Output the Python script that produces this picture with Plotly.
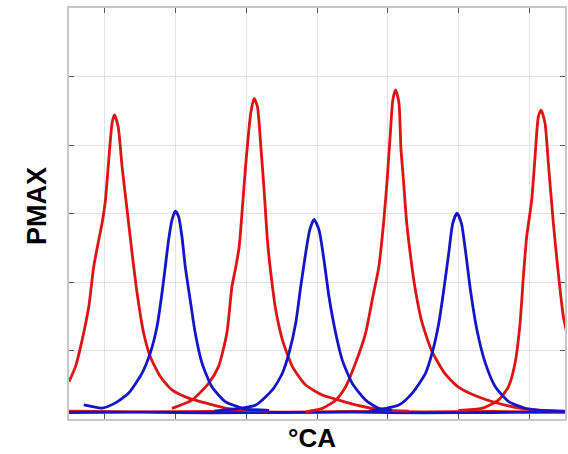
import plotly.graph_objects as go

# Crank angle (deg CA) and cylinder pressure (bar)
red1_x = [-60, -49, -37.7, -26.5, -18.1, -9.6, -3.9, 1.7, 7.3, 13.0, 16.9, 23.2, 29.9, 38.4, 46.8, 55.3, 66.4, 77.7, 94.6, 114.4, 142.5, 170.7, 204.5, 233.2, 278.9]
red1_y = [10.9, 15.3, 23.1, 32.8, 44.5, 52.3, 57.2, 63.9, 75.6, 86.4, 88.8, 85.4, 73.7, 61.0, 48.5, 36.8, 25.1, 18.2, 12.4, 8.5, 6.1, 4.7, 3.2, 2.6, 2.3]

blue1_x = [-35, -3.9, 18.6, 41.1, 63.7, 77.7, 89.1, 97.5, 103.1, 108.7, 114.4, 120.0, 125.6, 131.3, 136.9, 145.3, 153.8, 165.1, 182.0, 204.5, 227.0, 238.3, 278.9]
blue1_y = [4.1, 3.2, 4.7, 7.6, 13.4, 19.3, 27.0, 36.8, 44.5, 52.3, 58.1, 60.7, 59.1, 53.2, 44.5, 34.7, 25.1, 16.4, 9.4, 5.1, 3.5, 2.9, 2.5]

red2_x = [114.4, 148.2, 176.3, 193.2, 207.4, 215.9, 222.2, 228.2, 233.8, 239.5, 247.9, 253.5, 259.1, 264.9, 270.4, 276.0, 281.8, 290.2, 301.4, 318.3, 340.9, 369.0, 397.2, 425.4, 453.4, 476.1, 515.5]
red2_y = [3.1, 5.5, 10.4, 15.3, 25.1, 38.6, 44.1, 50.3, 62.0, 74.7, 89.4, 93.6, 91.2, 79.5, 66.9, 52.3, 42.6, 31.8, 23.1, 15.3, 9.9, 7.0, 5.5, 4.1, 3.1, 2.6, 2.3]

blue2_x = [185.9, 228.2, 256.4, 284.4, 301.4, 312.7, 324.0, 332.4, 340.9, 347.7, 355.0, 363.4, 371.8, 380.3, 391.6, 402.8, 419.7, 442.3, 464.8, 486.7]
blue2_y = [2.3, 3.1, 4.1, 8.5, 13.4, 19.3, 28.0, 38.6, 48.5, 55.2, 58.3, 55.2, 46.4, 35.7, 25.1, 17.2, 10.4, 5.5, 3.1, 2.6]

red3_x = [340.9, 369.0, 391.6, 408.5, 425.4, 442.3, 453.4, 464.8, 473.2, 478.8, 484.6, 488.4, 493.0, 498.6, 502.2, 506.0, 511.5, 517.2, 525.7, 536.8, 553.7, 576.4, 598.9, 632.7, 666.6, 705.9, 734.2, 768.0]
red3_y = [2.1, 3.1, 5.5, 9.4, 16.4, 25.1, 34.7, 44.5, 58.1, 69.8, 84.4, 93.1, 96.1, 92.6, 78.8, 70.7, 58.1, 49.3, 38.6, 28.9, 20.1, 13.3, 9.4, 6.5, 4.6, 3.1, 2.6, 2.3]

blue3_x = [447.9, 498.6, 521.0, 543.7, 554.9, 566.2, 574.7, 583.1, 589.9, 597.1, 604.6, 611.3, 619.8, 630.9, 645.1, 662.0, 684.5, 712.7, 734.2, 782.0]
blue3_y = [2.3, 4.1, 7.5, 13.3, 19.2, 27.9, 37.7, 48.4, 57.1, 60.1, 57.1, 49.3, 37.7, 26.0, 16.3, 9.4, 5.1, 3.1, 2.6, 2.3]

red4_x = [599.6, 639.0, 667.2, 684.1, 695.4, 703.9, 709.5, 715.1, 723.6, 729.3, 734.9, 739.5, 746.2, 751.8, 760.3, 768.7, 777.2, 785.7]
red4_y = [2.5, 3.1, 5.5, 9.4, 16.3, 27.9, 41.6, 53.2, 63.9, 76.6, 88.3, 90.2, 86.3, 74.7, 57.1, 42.5, 29.9, 23.1]

base_x = [-60, 60, 180, 300, 420, 540, 660, 780]
red_base_y = [2.3, 2.1, 2.2, 2.0, 2.2, 2.1, 2.2, 2.0]
blue_base_y = [1.9, 2.0, 1.8, 1.9, 2.0, 1.8, 1.9, 2.0]

RED = "#dc1414"
BLUE = "#1414c8"

fig = go.Figure()
for xs, ys, c in [
    (base_x, red_base_y, RED), (base_x, blue_base_y, BLUE),
    (red1_x, red1_y, RED), (red2_x, red2_y, RED), (red3_x, red3_y, RED), (red4_x, red4_y, RED),
    (blue1_x, blue1_y, BLUE), (blue2_x, blue2_y, BLUE), (blue3_x, blue3_y, BLUE),
]:
    fig.add_trace(go.Scatter(x=xs, y=ys, mode="lines", line=dict(color=c, width=2.8, shape="spline", smoothing=0.6),
                             showlegend=False, hoverinfo="skip"))

axis_common = dict(showgrid=True, gridcolor="#e3e3e3", gridwidth=1, zeroline=False,
                   showline=True, linecolor="#c8c8c8", linewidth=1.5, mirror="ticks",
                   ticks="inside", ticklen=5, tickcolor="#555555", tickwidth=1,
                   showticklabels=False)

fig.update_xaxes(range=[-60, 780], tick0=0, dtick=120, **axis_common)
fig.update_yaxes(range=[0, 120], tick0=0, dtick=20, **axis_common)

fig.update_layout(
    width=568, height=454,
    margin=dict(l=69, r=1, t=8, b=35),
    paper_bgcolor="white", plot_bgcolor="white",
    annotations=[
        dict(text="<b>°CA</b>", xref="paper", yref="paper", x=0.49, y=0, yshift=-19,
             xanchor="center", yanchor="middle", showarrow=False,
             font=dict(family="Liberation Sans", size=26, color="black")),
        dict(text="<b>PMAX</b>", xref="paper", yref="paper", x=0, xshift=-32, y=0.518,
             xanchor="center", yanchor="middle", showarrow=False, textangle=-90,
             font=dict(family="Liberation Sans", size=27, color="black")),
    ],
)

fig.write_html("out.html")
